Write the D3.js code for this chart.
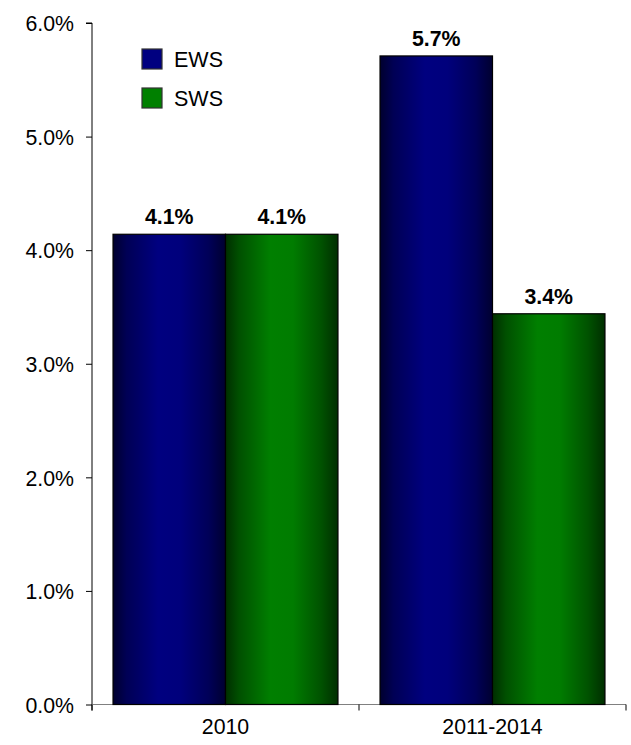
<!DOCTYPE html>
<html>
<head>
<meta charset="utf-8">
<script src="https://cdn.jsdelivr.net/npm/d3@7/dist/d3.min.js"></script>
<style>
  html, body { margin: 0; padding: 0; background: #fff; }
  svg { display: block; font-family: "Liberation Sans", Arial, sans-serif; }
</style>
</head>
<body>
<svg id="chart" width="631" height="745"></svg>
<script>
// Chart data
const categories = ["2010", "2011-2014"];
const seriesNames = ["EWS", "SWS"];
const ewsValues = [4.14, 5.71];
const swsValues = [4.14, 3.44];
const yTicks = [0, 1, 2, 3, 4, 5, 6];

const rows = categories.map((c, i) => ({ category: c, EWS: ewsValues[i], SWS: swsValues[i] }));

const svg = d3.select("#chart");
const margin = { left: 92, top: 23 };
const plotRight = 626, plotBottom = 704.5;

const x0 = d3.scaleBand().domain(categories).range([margin.left, plotRight]).paddingInner(0).paddingOuter(0);
const x1 = d3.scaleBand().domain(seriesNames).range([0, x0.bandwidth()]).paddingOuter(0.187).paddingInner(0);
const y = d3.scaleLinear().domain([0, 6]).range([plotBottom, margin.top]);

// Horizontal shading for the bars: dark at the edges, bright in the middle
const defs = svg.append("defs");
const shades = {
  EWS: [["0%", "#00002e"], ["12%", "#000055"], ["40%", "#000080"], ["60%", "#00007c"], ["85%", "#000058"], ["100%", "#000030"]],
  SWS: [["0%", "#002e00"], ["12%", "#005000"], ["40%", "#007f00"], ["60%", "#007c00"], ["85%", "#005200"], ["100%", "#002e00"]]
};
Object.entries(shades).forEach(([name, stops]) => {
  const g = defs.append("linearGradient").attr("id", "grad-" + name)
    .attr("x1", "0%").attr("x2", "100%").attr("y1", "0%").attr("y2", "0%");
  stops.forEach(([o, c]) => g.append("stop").attr("offset", o).attr("stop-color", c));
});
const fillFor = { EWS: "url(#grad-EWS)", SWS: "url(#grad-SWS)" };
const legendFill = { EWS: "#000080", SWS: "#008000" };

// Y axis
const yAxis = d3.axisLeft(y).tickValues(yTicks).tickFormat(d => d3.format(".1f")(d) + "%").tickSize(6).tickPadding(12);
const gy = svg.append("g").attr("transform", `translate(${margin.left},0)`).call(yAxis);
gy.select(".domain").attr("stroke", "#000").attr("d", `M-6,${margin.top}H0V${plotBottom + 6}`);
gy.selectAll(".tick line").attr("stroke", "#000");
gy.selectAll(".tick text").attr("fill", "#000").style("font-size", "21.3px").attr("dy", "0.36em");

// X axis
const xAxis = d3.axisBottom(x0).tickSize(0).tickPadding(14);
const gx = svg.append("g").attr("transform", `translate(0,${plotBottom})`).call(xAxis);
gx.select(".domain").attr("stroke", "#808080").attr("d", `M${margin.left},0H${plotRight}`);
gx.selectAll(".tick text").attr("fill", "#000").style("font-size", "21.3px").attr("dy", "0.71em");
// category boundary tick marks
const boundaries = [x0.range()[0], ...categories.map(c => x0(c) + x0.bandwidth())];
gx.selectAll("line.bound").data(boundaries).join("line").attr("class", "bound")
  .attr("x1", d => d).attr("x2", d => d).attr("y1", 0).attr("y2", 6).attr("stroke", "#000");

// Bars
const groups = svg.append("g").selectAll("g").data(rows).join("g")
  .attr("transform", d => `translate(${x0(d.category)},0)`);
groups.selectAll("rect").data(d => seriesNames.map(s => ({ key: s, value: d[s] }))).join("rect")
  .attr("x", d => x1(d.key))
  .attr("y", d => y(d.value))
  .attr("width", x1.bandwidth())
  .attr("height", d => y(0) - y(d.value))
  .attr("fill", d => fillFor[d.key])
  .attr("stroke", "#000").attr("stroke-width", 1.2);

// Value labels
groups.selectAll("text.val").data(d => seriesNames.map(s => ({ key: s, value: d[s] }))).join("text")
  .attr("class", "val")
  .attr("x", d => x1(d.key) + x1.bandwidth() / 2)
  .attr("y", d => y(d.value) - 10)
  .attr("text-anchor", "middle")
  .style("font-size", "21.3px").style("font-weight", "bold")
  .text(d => d3.format(".1f")(d.value) + "%");

// Legend
const legend = svg.append("g").attr("transform", "translate(142,49)");
const items = legend.selectAll("g").data(seriesNames).join("g")
  .attr("transform", (d, i) => `translate(0,${i * 39})`);
items.append("rect").attr("width", 20).attr("height", 20)
  .attr("fill", d => legendFill[d]).attr("stroke", "#333").attr("stroke-width", 1.2);
items.append("text").attr("x", 32).attr("y", 10).attr("dy", "0.36em")
  .style("font-size", "21.5px").text(d => d);
</script>
</body>
</html>
